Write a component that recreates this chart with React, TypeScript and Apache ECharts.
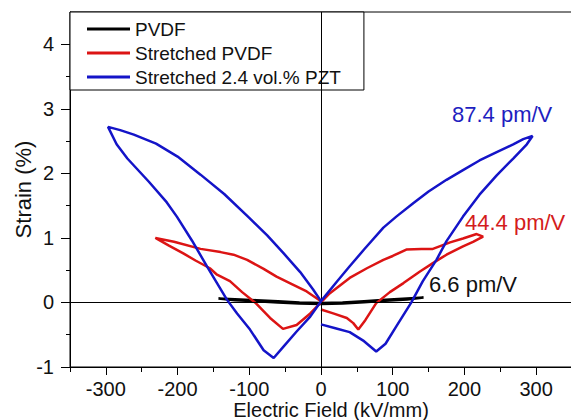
import React, { useEffect, useRef } from "react";
import * as echarts from "echarts";

// Electric field (kV/mm) and strain (%) for each sample's butterfly loop
const pvdfField = [-143, -120, -90, -60, -30, 0, 30, 60, 90, 120, 143, 120, 90, 60, 30, 0, -30, -60, -90, -120, -143];
const pvdfStrain = [0.06, 0.05, 0.035, 0.02, 0.0, -0.01, 0.0, 0.02, 0.04, 0.06, 0.075, 0.045, 0.025, 0.005, -0.015, -0.025, -0.015, 0.0, 0.02, 0.035, 0.06];

const stretchedField = [
  0, 17, 36, 45, 52, 62, 77, 96, 115, 138, 156, 175, 198, 212, 226, 217, 198, 180, 156, 140, 119, 100, 87, 64, 40, 12, 0,
  -15, -34, -53, -71, -92, -110, -127, -145, -155, -175, -192, -212, -231, -205, -168, -140, -122, -103, -80, -62, -40, -20, 0,
];
const stretchedStrain = [
  -0.11, -0.17, -0.24, -0.32, -0.42, -0.27, -0.01, 0.16, 0.3, 0.48, 0.61, 0.74, 0.87, 0.94, 1.02, 1.06, 0.99, 0.93, 0.83, 0.83, 0.82, 0.72, 0.66, 0.53, 0.38, 0.14, 0.0,
  -0.17, -0.35, -0.41, -0.24, 0.0, 0.16, 0.33, 0.43, 0.53, 0.65, 0.76, 0.88, 1.0, 0.94, 0.83, 0.78, 0.74, 0.66, 0.52, 0.4, 0.28, 0.17, 0.02,
];

const pztField = [
  0, 20, 40, 60, 77, 90, 105, 126, 142, 161, 175, 198, 221, 245, 268, 287, 295, 282, 268, 245, 221, 198, 175, 150, 129, 105, 87, 60, 40, 22, 0,
  -15, -34, -52, -66, -80, -99, -117, -131, -159, -180, -201, -215, -240, -270, -285, -297, -280, -261, -230, -200, -168, -135, -100, -75, -52, -29, -11, 0,
];
const pztStrain = [
  -0.34, -0.4, -0.46, -0.6, -0.76, -0.64, -0.37, 0.0, 0.33, 0.66, 0.95, 1.33, 1.67, 1.97, 2.23, 2.45, 2.58, 2.53, 2.45, 2.33, 2.2, 2.05, 1.9, 1.72, 1.54, 1.33, 1.16, 0.82, 0.56, 0.32, 0.02,
  -0.22, -0.45, -0.68, -0.86, -0.74, -0.42, -0.17, 0.04, 0.56, 0.96, 1.33, 1.55, 1.87, 2.23, 2.45, 2.72, 2.67, 2.6, 2.46, 2.26, 1.98, 1.68, 1.31, 1.04, 0.76, 0.47, 0.2, 0.02,
];

const seriesNames = ["PVDF", "Stretched PVDF", "Stretched 2.4 vol.% PZT"];
const seriesColors = ["#000000", "#dc1414", "#1414c8"];
const coefficientLabels = ["6.6 pm/V", "44.4 pm/V", "87.4 pm/V"];

const xMajorTicks = [-300, -200, -100, 0, 100, 200, 300];
const xMinorTicks = [-350, -250, -150, -50, 50, 150, 250, 350];
const yMajorTicks = [-1, 0, 1, 2, 3, 4];
const yMinorTicks = [-0.5, 0.5, 1.5, 2.5, 3.5];

const FONT = "'Liberation Sans', Arial, sans-serif";

const zip = (xs: number[], ys: number[]) => xs.map((x, i) => [x, ys[i]]);

export default function App() {
  const ref = useRef<HTMLDivElement>(null);

  useEffect(() => {
    if (!ref.current) return;
    const chart = echarts.init(ref.current, undefined, { renderer: "svg" });

    const xBase = { type: "value", min: -350, max: 350, position: "bottom", gridIndex: 0, splitLine: { show: false } };
    const yBase = { type: "value", min: -1, max: 4.5, position: "left", gridIndex: 0, splitLine: { show: false } };
    const datasets = [zip(pvdfField, pvdfStrain), zip(stretchedField, stretchedStrain), zip(pztField, pztStrain)];

    chart.setOption({
      animation: false,
      backgroundColor: "#ffffff",
      textStyle: { fontFamily: FONT },
      grid: {
        left: 70,
        top: 12,
        width: 502,
        height: 355,
        outerBoundsMode: "none",
        containLabel: false,
        show: true,
        borderColor: "#000",
        borderWidth: 1,
        backgroundColor: "transparent",
      },
      legend: {
        left: 70,
        top: 12,
        orient: "vertical",
        data: seriesNames,
        icon: "rect",
        itemWidth: 43,
        itemHeight: 3,
        itemGap: 4,
        padding: [7, 23, 3, 17],
        backgroundColor: "#ffffff",
        borderColor: "#000",
        borderWidth: 1,
        borderRadius: 0,
        textStyle: { fontSize: 19, lineHeight: 20, color: "#111", fontFamily: FONT },
      },
      xAxis: [
        {
          ...xBase,
          name: "Electric Field (kV/mm)",
          nameLocation: "middle",
          nameGap: 35,
          nameMoveOverlap: false,
          nameTextStyle: { fontSize: 20, lineHeight: 16, color: "#111", fontFamily: FONT, padding: [0, 0, 0, 20] },
          axisLine: { onZero: false, lineStyle: { color: "#000", width: 1 } },
          axisTick: { show: true, customValues: xMajorTicks, length: 8, lineStyle: { color: "#000" } },
          axisLabel: { customValues: xMajorTicks, fontSize: 20, lineHeight: 16, color: "#111", margin: 14, fontFamily: FONT },
        },
        {
          ...xBase,
          axisLine: { show: false, onZero: false },
          axisTick: { show: true, customValues: xMinorTicks, length: 5, lineStyle: { color: "#000" } },
          axisLabel: { show: false },
        },
      ],
      yAxis: [
        {
          ...yBase,
          name: "Strain (%)",
          nameLocation: "middle",
          nameGap: 36,
          nameMoveOverlap: false,
          nameTextStyle: { fontSize: 22, color: "#111", fontFamily: FONT },
          axisLine: { onZero: false, lineStyle: { color: "#000", width: 1 } },
          axisTick: { show: true, customValues: yMajorTicks, length: 9, lineStyle: { color: "#000" } },
          axisLabel: { customValues: yMajorTicks, fontSize: 20, color: "#111", margin: 16, fontFamily: FONT },
        },
        {
          ...yBase,
          axisLine: { show: false, onZero: false },
          axisTick: { show: true, customValues: yMinorTicks, length: 4, lineStyle: { color: "#000" } },
          axisLabel: { show: false },
        },
      ],
      series: seriesNames.map((name, i) => ({
        name,
        type: "line",
        xAxisIndex: 0,
        yAxisIndex: 0,
        data: datasets[i],
        showSymbol: false,
        symbol: "none",
        smooth: false,
        color: seriesColors[i],
        itemStyle: { color: seriesColors[i] },
        lineStyle: { color: seriesColors[i], width: 2.5 },
        z: 3 + i,
        markLine:
          i === 0
            ? {
                silent: true,
                symbol: "none",
                label: { show: false },
                lineStyle: { color: "#000", width: 1, type: "solid" },
                data: [{ xAxis: 0 }, { yAxis: 0 }],
              }
            : undefined,
      })),
      graphic: [
        { type: "text", x: 429, y: 284, style: { text: coefficientLabels[0], fill: "#111", font: `22px ${FONT}`, align: "left", verticalAlign: "middle" } },
        { type: "text", x: 465, y: 222, style: { text: coefficientLabels[1], fill: "#d41c1c", font: `22px ${FONT}`, align: "left", verticalAlign: "middle" } },
        { type: "text", x: 452, y: 114, style: { text: coefficientLabels[2], fill: "#1e1ec0", font: `22px ${FONT}`, align: "left", verticalAlign: "middle" } },
      ],
    });

    return () => chart.dispose();
  }, []);

  return <div ref={ref} style={{ position: "absolute", left: 0, top: 0, width: 571, height: 420 }} />;
}
